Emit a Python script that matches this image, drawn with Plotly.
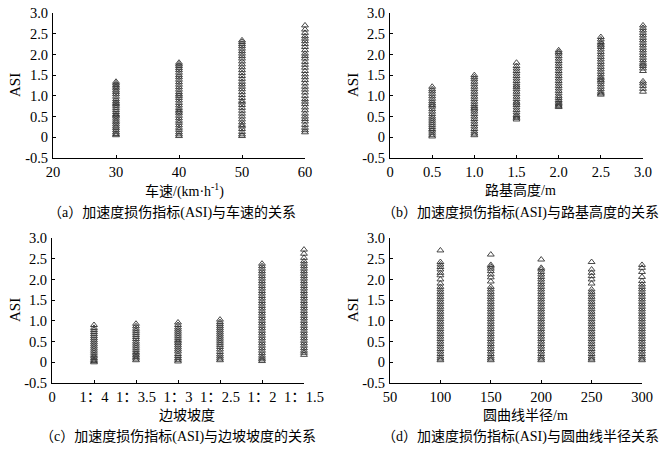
import plotly.graph_objects as go

# 纵轴刻度
asi_ticks = [-0.5, 0, 0.5, 1.0, 1.5, 2.0, 2.5, 3.0]
asi_labels = ['-0.5', '0', '0.5', '1.0', '1.5', '2.0', '2.5', '3.0']

# (a) 车速
speed = [30, 40, 50, 60]
asi_speed = [
    [0.05, 0.08, 0.12, 0.17, 0.22, 0.26, 0.31, 0.36, 0.40, 0.45, 0.50, 0.53, 0.56, 0.61, 0.66,
     0.71, 0.76, 0.80, 0.83, 0.87, 0.92, 0.98, 1.04, 1.09, 1.13, 1.18, 1.22, 1.26, 1.30, 1.34],
    [0.03, 0.07, 0.12, 0.18, 0.23, 0.29, 0.35, 0.40, 0.46, 0.52, 0.58, 0.62, 0.66, 0.71, 0.77,
     0.83, 0.89, 0.95, 1.00, 1.04, 1.09, 1.15, 1.21, 1.27, 1.33, 1.39, 1.45, 1.50, 1.56, 1.62,
     1.67, 1.72, 1.76, 1.80],
    [0.03, 0.07, 0.13, 0.20, 0.26, 0.30, 0.36, 0.43, 0.50, 0.57, 0.64, 0.71, 0.78, 0.84, 0.88,
     0.95, 1.02, 1.09, 1.16, 1.22, 1.28, 1.34, 1.41, 1.48, 1.55, 1.62, 1.69, 1.76, 1.83, 1.90,
     1.96, 2.02, 2.08, 2.14, 2.20, 2.25, 2.30, 2.34],
    [0.12, 0.17, 0.23, 0.30, 0.38, 0.44, 0.50, 0.57, 0.65, 0.72, 0.80, 0.86, 0.92, 1.00, 1.08,
     1.15, 1.22, 1.30, 1.38, 1.45, 1.52, 1.60, 1.68, 1.75, 1.82, 1.90, 1.96, 2.02, 2.10, 2.18,
     2.25, 2.32, 2.38, 2.44, 2.52, 2.60, 2.70],
]
speed_ticks = [20, 30, 40, 50, 60]

# (b) 路基高度
height = [0.5, 1.0, 1.5, 2.0, 2.5, 3.0]
asi_height = [
    [0.02, 0.06, 0.11, 0.16, 0.20, 0.25, 0.30, 0.35, 0.40, 0.45, 0.50, 0.56, 0.62, 0.68, 0.74,
     0.78, 0.82, 0.87, 0.93, 0.99, 1.05, 1.11, 1.16, 1.22],
    [0.05, 0.09, 0.14, 0.20, 0.26, 0.32, 0.38, 0.44, 0.50, 0.56, 0.62, 0.67, 0.71, 0.75, 0.80,
     0.86, 0.92, 0.98, 1.04, 1.10, 1.16, 1.22, 1.28, 1.34, 1.40, 1.45, 1.50],
    [0.43, 0.47, 0.50, 0.54, 0.60, 0.66, 0.72, 0.78, 0.82, 0.86, 0.92, 0.98, 1.04, 1.10, 1.16,
     1.21, 1.25, 1.30, 1.36, 1.42, 1.48, 1.54, 1.60, 1.66, 1.72, 1.80],
    [0.73, 0.76, 0.79, 0.82, 0.86, 0.90, 0.95, 1.00, 1.06, 1.12, 1.18, 1.24, 1.30, 1.36, 1.42,
     1.48, 1.54, 1.60, 1.66, 1.72, 1.78, 1.84, 1.90, 1.96, 2.02, 2.06, 2.10],
    [1.03, 1.06, 1.10, 1.16, 1.22, 1.28, 1.34, 1.38, 1.42, 1.46, 1.52, 1.58, 1.64, 1.70, 1.76,
     1.82, 1.88, 1.94, 2.00, 2.06, 2.12, 2.18, 2.22, 2.26, 2.30, 2.36, 2.42],
    [1.10, 1.17, 1.24, 1.30, 1.35, 1.60, 1.66, 1.72, 1.76, 1.80, 1.86, 1.92, 1.98, 2.04, 2.10,
     2.16, 2.22, 2.28, 2.34, 2.40, 2.46, 2.52, 2.58, 2.64, 2.70],
]
height_ticks = [0, 0.5, 1.0, 1.5, 2.0, 2.5, 3.0]
height_labels = ['0', '0.5', '1.0', '1.5', '2.0', '2.5', '3.0']

# (c) 边坡坡度
slope = ['1：4', '1：3.5', '1：3', '1：2.5', '1：2', '1：1.5']
asi_slope = [
    [0.00, 0.03, 0.06, 0.10, 0.14, 0.18, 0.23, 0.28, 0.33, 0.38, 0.43, 0.48, 0.53, 0.58, 0.63,
     0.68, 0.73, 0.78, 0.83, 0.90],
    [0.05, 0.09, 0.13, 0.17, 0.21, 0.25, 0.30, 0.35, 0.40, 0.45, 0.50, 0.56, 0.61, 0.66, 0.71,
     0.76, 0.81, 0.87, 0.93],
    [0.02, 0.06, 0.10, 0.15, 0.20, 0.26, 0.31, 0.36, 0.41, 0.46, 0.50, 0.54, 0.59, 0.64, 0.69,
     0.74, 0.79, 0.84, 0.90, 0.96],
    [0.05, 0.09, 0.14, 0.19, 0.25, 0.31, 0.37, 0.42, 0.47, 0.52, 0.57, 0.62, 0.67, 0.72, 0.77,
     0.82, 0.87, 0.92, 0.97, 1.03],
    [0.03, 0.07, 0.11, 0.16, 0.22, 0.28, 0.34, 0.40, 0.46, 0.52, 0.58, 0.64, 0.70, 0.76, 0.82,
     0.88, 0.94, 1.00, 1.06, 1.12, 1.18, 1.24, 1.30, 1.36, 1.42, 1.48, 1.54, 1.60, 1.66, 1.72,
     1.78, 1.84, 1.90, 1.96, 2.02, 2.08, 2.14, 2.20, 2.26, 2.32, 2.38],
    [0.18, 0.23, 0.28, 0.34, 0.40, 0.46, 0.52, 0.58, 0.64, 0.70, 0.76, 0.82, 0.88, 0.94, 1.00,
     1.06, 1.12, 1.18, 1.24, 1.30, 1.36, 1.42, 1.48, 1.54, 1.60, 1.66, 1.72, 1.78, 1.84, 1.90,
     1.96, 2.02, 2.08, 2.14, 2.20, 2.26, 2.32, 2.38, 2.44, 2.52, 2.62, 2.72],
]

# (d) 圆曲线半径
radius = [100, 150, 200, 250, 300]
asi_radius = [
    [0.05, 0.09, 0.14, 0.20, 0.26, 0.32, 0.38, 0.44, 0.50, 0.56, 0.62, 0.68, 0.74, 0.80, 0.86,
     0.92, 0.98, 1.04, 1.10, 1.16, 1.22, 1.28, 1.34, 1.40, 1.46, 1.52, 1.58, 1.64, 1.70, 1.76,
     1.82, 1.90, 2.00, 2.10, 2.16, 2.24, 2.30, 2.36, 2.42, 2.70],
    [0.05, 0.09, 0.14, 0.20, 0.26, 0.32, 0.38, 0.44, 0.50, 0.56, 0.62, 0.68, 0.74, 0.80, 0.86,
     0.92, 0.98, 1.04, 1.10, 1.16, 1.22, 1.28, 1.34, 1.40, 1.46, 1.52, 1.58, 1.64, 1.70, 1.76,
     1.82, 1.95, 2.05, 2.12, 2.20, 2.26, 2.31, 2.35, 2.60],
    [0.05, 0.09, 0.14, 0.20, 0.26, 0.32, 0.38, 0.44, 0.50, 0.56, 0.62, 0.68, 0.74, 0.80, 0.86,
     0.92, 0.98, 1.04, 1.10, 1.16, 1.22, 1.28, 1.34, 1.40, 1.46, 1.52, 1.58, 1.64, 1.70, 1.76,
     1.82, 1.88, 1.94, 2.00, 2.06, 2.12, 2.18, 2.24, 2.28, 2.48],
    [0.05, 0.09, 0.14, 0.20, 0.26, 0.32, 0.38, 0.44, 0.50, 0.56, 0.62, 0.68, 0.74, 0.80, 0.86,
     0.92, 0.98, 1.04, 1.10, 1.16, 1.22, 1.28, 1.34, 1.40, 1.46, 1.52, 1.58, 1.64, 1.70, 1.76,
     1.90, 2.00, 2.08, 2.16, 2.24, 2.42],
    [0.05, 0.09, 0.14, 0.20, 0.26, 0.32, 0.38, 0.44, 0.50, 0.56, 0.62, 0.68, 0.74, 0.80, 0.86,
     0.92, 0.98, 1.04, 1.10, 1.16, 1.22, 1.28, 1.34, 1.40, 1.46, 1.52, 1.58, 1.64, 1.70, 1.76,
     1.82, 1.88, 1.96, 2.06, 2.18, 2.28, 2.35],
]
radius_ticks = [50, 100, 150, 200, 250, 300]

x_titles = ['车速/(km·h<sup>-1</sup>)', '路基高度/m', '边坡坡度', '圆曲线半径/m']
captions = ['（a）加速度损伤指标(ASI)与车速的关系',
            '（b）加速度损伤指标(ASI)与路基高度的关系',
            '（c）加速度损伤指标(ASI)与边坡坡度的关系',
            '（d）加速度损伤指标(ASI)与圆曲线半径关系']

FONT = 'Liberation Serif, Times New Roman, Noto Sans CJK SC, serif'

# 页面有 8px 的默认边距，图从 (8, 8) 开始，位置按页面像素换算
OFF = 8
W, H = 667 - OFF, 450 - OFF


def px(x):
    return (x - OFF) / W


def py(y):
    return 1 - (y - OFF) / H


fig = go.Figure()


def add_columns(xs, ys_list, axis):
    for x, ys in zip(xs, ys_list):
        fig.add_trace(go.Scatter(
            x=[x] * len(ys), y=ys, mode='markers',
            marker=dict(symbol='triangle-up-open', size=6, color='#333',
                        line=dict(width=0.9)),
            xaxis='x' + axis, yaxis='y' + axis, cliponaxis=False,
            showlegend=False, hoverinfo='x+y'))


add_columns(speed, asi_speed, '')
add_columns(height, asi_height, '2')
add_columns(list(range(1, len(slope) + 1)), asi_slope, '3')
add_columns(radius, asi_radius, '4')

axis_style = dict(showline=True, linecolor='black', linewidth=1, ticks='inside',
                  ticklen=3, tickcolor='black', showgrid=False, zeroline=False,
                  automargin=False, ticklabelstandoff=1, ticklabeloverflow='allow',
                  tickfont=dict(family=FONT, size=14.5, color='black'))

top = [py(158), py(13)]
bottom = [py(383), py(238)]
left_a = [px(53), px(305)]
left_c = [px(52), px(304)]
right_b = [px(390), px(643)]
right_d = [px(390), px(642)]

y_common = dict(axis_style, range=[-0.5, 3.0], tickvals=asi_ticks, ticktext=asi_labels)

fig.update_layout(
    width=W, height=H,
    margin=dict(l=0, r=0, t=0, b=0, pad=0, autoexpand=False),
    paper_bgcolor='white', plot_bgcolor='white',
    font=dict(family=FONT, color='black'),
    xaxis=dict(axis_style, domain=left_a, range=[20, 60], tickvals=speed_ticks, anchor='y'),
    yaxis=dict(y_common, domain=top, anchor='x'),
    xaxis2=dict(axis_style, domain=right_b, range=[0, 3.0], tickvals=height_ticks,
                ticktext=height_labels, anchor='y2'),
    yaxis2=dict(y_common, domain=top, anchor='x2'),
    xaxis3=dict(axis_style, domain=left_c, range=[0, 6], tickvals=list(range(0, 7)),
                ticktext=['0'] + slope, anchor='y3'),
    yaxis3=dict(y_common, domain=bottom, anchor='x3'),
    xaxis4=dict(axis_style, domain=right_d, range=[50, 300], tickvals=radius_ticks,
                anchor='y4'),
    yaxis4=dict(y_common, domain=bottom, anchor='x4'),
)

# 轴标题与分图标题（页面像素位置）
title_x = [184, 520, 187, 525]
title_y = [190, 190, 415, 415]
caption_x = [172, 520, 178, 520]
caption_y = [212, 212, 437, 437]
asi_x = [15, 353, 15, 353]
asi_y = [85, 85, 310, 310]

for i in range(4):
    fig.add_annotation(x=px(title_x[i]), y=py(title_y[i]), xref='paper', yref='paper',
                       xanchor='center', yanchor='middle',
                       text=x_titles[i], showarrow=False, font=dict(size=14))
    fig.add_annotation(x=px(caption_x[i]), y=py(caption_y[i]), xref='paper', yref='paper',
                       xanchor='center', yanchor='middle',
                       text=captions[i], showarrow=False, font=dict(size=14))
    fig.add_annotation(x=px(asi_x[i]), y=py(asi_y[i]), xref='paper', yref='paper',
                       xanchor='center', yanchor='middle',
                       text='ASI', textangle=-90, showarrow=False, font=dict(size=15))

fig.write_html("out.html")
